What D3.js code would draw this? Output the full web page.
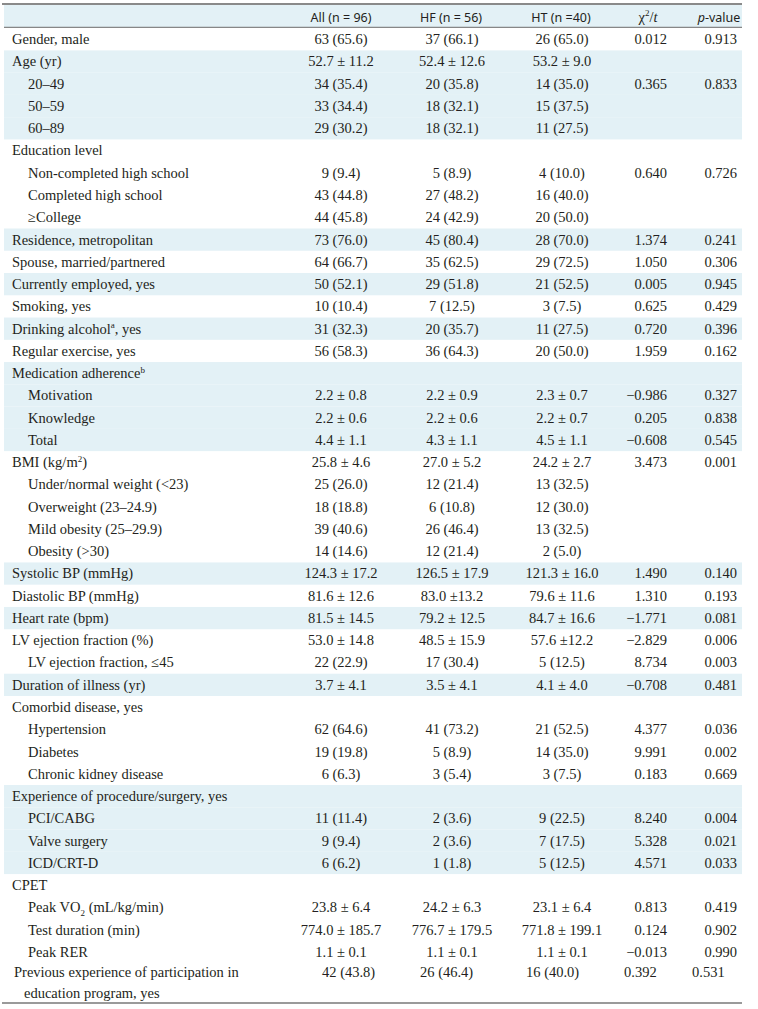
<!DOCTYPE html>
<html><head><meta charset="utf-8">
<script src="https://cdn.jsdelivr.net/npm/d3@7"></script>
<style>body{margin:0;background:#fff}</style>
</head><body><svg id="c" width="758" height="1009"></svg>
<script>
// ---------- data ----------
const headers = ["All (n = 96)", "HF (n = 56)", "HT (n =40)", "χ^2^/*t*", "*p*-value"];
const labels = [
  "Gender, male","Age (yr)","20–49","50–59","60–89","Education level","Non-completed high school",
  "Completed high school","≥College","Residence, metropolitan","Spouse, married/partnered",
  "Currently employed, yes","Smoking, yes","Drinking alcohol^a^, yes","Regular exercise, yes",
  "Medication adherence^b^","Motivation","Knowledge","Total","BMI (kg/m^2^)",
  "Under/normal weight (<23)","Overweight (23–24.9)","Mild obesity (25–29.9)","Obesity (>30)",
  "Systolic BP (mmHg)","Diastolic BP (mmHg)","Heart rate (bpm)","LV ejection fraction (%)",
  "LV ejection fraction, ≤45","Duration of illness (yr)","Comorbid disease, yes","Hypertension",
  "Diabetes","Chronic kidney disease","Experience of procedure/surgery, yes","PCI/CABG",
  "Valve surgery","ICD/CRT-D","CPET","Peak VO_2_ (mL/kg/min)","Test duration (min)","Peak RER",
  "Previous experience of participation in|education program, yes"
];
const indent = [0,0,1,1,1,0,1,1,1,0,0,0,0,0,0,0,1,1,1,0,1,1,1,1,0,0,0,0,1,0,0,1,1,1,0,1,1,1,0,1,1,1,0];
const allVals = ["63 (65.6)","52.7 ± 11.2","34 (35.4)","33 (34.4)","29 (30.2)","","9 (9.4)","43 (44.8)","44 (45.8)",
  "73 (76.0)","64 (66.7)","50 (52.1)","10 (10.4)","31 (32.3)","56 (58.3)","","2.2 ± 0.8","2.2 ± 0.6","4.4 ± 1.1",
  "25.8 ± 4.6","25 (26.0)","18 (18.8)","39 (40.6)","14 (14.6)","124.3 ± 17.2","81.6 ± 12.6","81.5 ± 14.5",
  "53.0 ± 14.8","22 (22.9)","3.7 ± 4.1","","62 (64.6)","19 (19.8)","6 (6.3)","","11 (11.4)","9 (9.4)","6 (6.2)",
  "","23.8 ± 6.4","774.0 ± 185.7","1.1 ± 0.1","42 (43.8)"];
const hfVals = ["37 (66.1)","52.4 ± 12.6","20 (35.8)","18 (32.1)","18 (32.1)","","5 (8.9)","27 (48.2)","24 (42.9)",
  "45 (80.4)","35 (62.5)","29 (51.8)","7 (12.5)","20 (35.7)","36 (64.3)","","2.2 ± 0.9","2.2 ± 0.6","4.3 ± 1.1",
  "27.0 ± 5.2","12 (21.4)","6 (10.8)","26 (46.4)","12 (21.4)","126.5 ± 17.9","83.0 ±13.2","79.2 ± 12.5",
  "48.5 ± 15.9","17 (30.4)","3.5 ± 4.1","","41 (73.2)","5 (8.9)","3 (5.4)","","2 (3.6)","2 (3.6)","1 (1.8)",
  "","24.2 ± 6.3","776.7 ± 179.5","1.1 ± 0.1","26 (46.4)"];
const htVals = ["26 (65.0)","53.2 ± 9.0","14 (35.0)","15 (37.5)","11 (27.5)","","4 (10.0)","16 (40.0)","20 (50.0)",
  "28 (70.0)","29 (72.5)","21 (52.5)","3 (7.5)","11 (27.5)","20 (50.0)","","2.3 ± 0.7","2.2 ± 0.7","4.5 ± 1.1",
  "24.2 ± 2.7","13 (32.5)","12 (30.0)","13 (32.5)","2 (5.0)","121.3 ± 16.0","79.6 ± 11.6","84.7 ± 16.6",
  "57.6 ±12.2","5 (12.5)","4.1 ± 4.0","","21 (52.5)","14 (35.0)","3 (7.5)","","9 (22.5)","7 (17.5)","5 (12.5)",
  "","23.1 ± 6.4","771.8 ± 199.1","1.1 ± 0.1","16 (40.0)"];
const statVals = ["0.012","","0.365","","","","0.640","","","1.374","1.050","0.005","0.625","0.720","1.959","",
  "−0.986","0.205","−0.608","3.473","","","","","1.490","1.310","−1.771","−2.829","8.734","−0.708","",
  "4.377","9.991","0.183","","8.240","5.328","4.571","","0.813","0.124","−0.013","0.392"];
const pVals = ["0.913","","0.833","","","","0.726","","","0.241","0.306","0.945","0.429","0.396","0.162","",
  "0.327","0.838","0.545","0.001","","","","","0.140","0.193","0.081","0.006","0.003","0.481","",
  "0.036","0.002","0.669","","0.004","0.021","0.033","","0.419","0.902","0.990","0.531"];
const shadedRows = [1,2,3,4,9,11,13,15,16,17,18,24,26,29,34,35,36,37];

// ---------- layout ----------
const svg = d3.select("#c");
const left = 4, right = 742;
const serif = "'Liberation Serif','Times New Roman',serif";
const sans = "'Noto Sans','Liberation Sans',sans-serif";
const rowH = 22.26;
const y = d3.scaleLinear().domain([-1, 41]).range([17, 952]);
const colKeys = ["all","hf","ht","stat","p"];
const colX = d3.scaleOrdinal().domain(colKeys).range([341, 452, 562, 667, 737]);
const headX = d3.scaleOrdinal().domain(colKeys).range([341, 451, 561, 648, 719]);
const colAnchor = d3.scaleOrdinal().domain(colKeys).range(["middle","middle","middle","end","end"]);
const lastX = d3.scaleOrdinal().domain(colKeys).range([322, 420, 526, 624, 692]);
const colData = {all: allVals, hf: hfVals, ht: htVals, stat: statVals, p: pVals};
const color = "#231f20";
const blue = "#e3f1f6";

// bands
svg.append("rect").attr("x", left).attr("y", 5).attr("width", right-left).attr("height", 22).attr("fill", blue);
svg.selectAll("rect.band").data(shadedRows).join("rect").attr("class","band")
  .attr("x", left).attr("y", d => y(d) - rowH/2).attr("width", right-left).attr("height", rowH).attr("fill", blue);

// rules
svg.append("line").attr("x1", 2).attr("x2", right).attr("y1", 4).attr("y2", 4).attr("stroke", "#8a8a8a").attr("stroke-width", 2);
svg.append("line").attr("x1", left).attr("x2", right).attr("y1", 27.3).attr("y2", 27.3).attr("stroke", "#6a6a6a").attr("stroke-width", 1);
svg.append("line").attr("x1", 2).attr("x2", right).attr("y1", 1003).attr("y2", 1003).attr("stroke", "#9a9a9a").attr("stroke-width", 2);

// rich text helper: ^sup^, _sub_, *italic*
function rich(sel, str, size) {
  const parts = str.split(/(\^[^^]+\^|_[^_]+_|\*[^*]+\*)/).filter(s => s.length);
  let pending = 0;
  parts.forEach(p => {
    let ts;
    if (p[0] === "^") {
      ts = sel.append("tspan").attr("font-size", size*0.62).attr("dy", pending - size*0.38).text(p.slice(1,-1));
      pending = size*0.38; return;
    } else if (p[0] === "_") {
      ts = sel.append("tspan").attr("font-size", size*0.62).attr("dy", pending + size*0.22).text(p.slice(1,-1));
      pending = -size*0.22; return;
    } else if (p[0] === "*") {
      ts = sel.append("tspan").attr("font-style", "italic").text(p.slice(1,-1));
    } else {
      ts = sel.append("tspan").text(p);
    }
    if (pending) { ts.attr("dy", pending); pending = 0; }
  });
}

// header
const hg = svg.append("g");
colKeys.forEach((k, i) => {
  const isSerif = k === "stat";
  const sz = isSerif ? 14.5 : 12.5;
  const t = hg.append("text").attr("x", headX(k)).attr("y", 21.5).attr("text-anchor", "middle")
    .attr("font-family", isSerif ? serif : sans).attr("font-size", sz).attr("fill", color);
  rich(t, headers[i], sz);
});

// body
const fs = 14.5;
const body = svg.append("g").attr("font-family", serif).attr("font-size", fs).attr("fill", color);
labels.forEach((lab, i) => {
  const last = i === labels.length - 1;
  const cy = last ? y(i) - 2.5 : y(i);
  const lines = lab.split("|");
  lines.forEach((ln, j) => {
    const t = body.append("text")
      .attr("x", last ? (j === 0 ? 14 : 24) : (indent[i] ? 28 : 12))
      .attr("y", cy + 4.9 + j*21.5);
    rich(t, ln, fs);
  });
  colKeys.forEach(k => {
    const v = colData[k][i];
    if (!v) return;
    body.append("text")
      .attr("x", last ? lastX(k) : colX(k))
      .attr("y", cy + 4.9)
      .attr("text-anchor", last ? "start" : colAnchor(k))
      .text(v);
  });
});
</script></body></html>
